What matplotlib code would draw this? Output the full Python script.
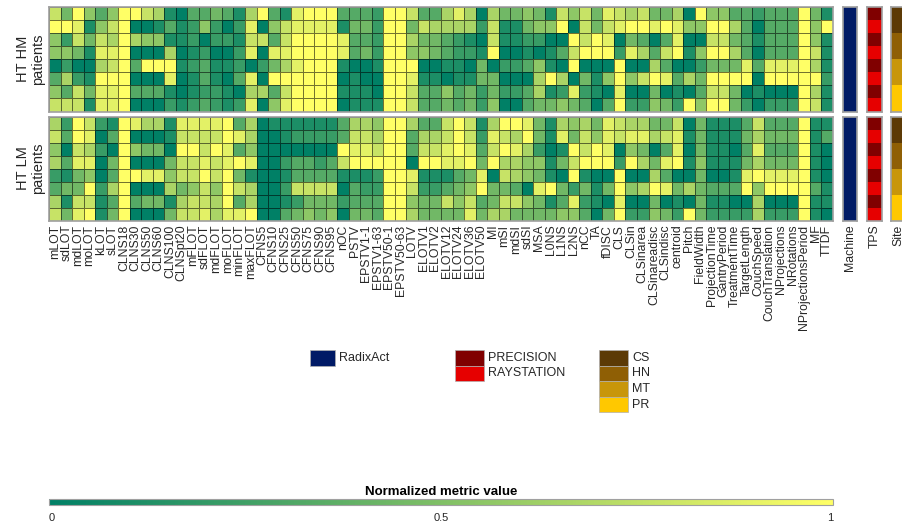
import numpy as np
import matplotlib
matplotlib.use('Agg')
import matplotlib.pyplot as plt
from matplotlib.colors import ListedColormap, Normalize
from matplotlib.cm import ScalarMappable
from matplotlib.patches import Rectangle

plt.rcParams['font.family'] = ['Liberation Sans', 'DejaVu Sans']

metrics = ['mLOT', 'sdLOT', 'mdLOT', 'moLOT', 'kLOT', 'sLOT', 'CLNS18', 'CLNS30', 'CLNS50',
           'CLNS60', 'CLNS100', 'CLNSpt20', 'mFLOT', 'sdFLOT', 'mdFLOT', 'moFLOT', 'minFLOT',
           'maxFLOT', 'CFNS5', 'CFNS10', 'CFNS25', 'CFNS50', 'CFNS75', 'CFNS90', 'CFNS95', 'nOC',
           'PSTV', 'EPSTV1-1', 'EPSTV1-63', 'EPSTV50-1', 'EPSTV50-63', 'LOTV', 'ELOTV1', 'ELOTV2',
           'ELOTV12', 'ELOTV24', 'ELOTV36', 'ELOTV50', 'MI', 'mSI', 'mdSI', 'sdSI', 'MSA', 'L0NS',
           'L1NS', 'L2NS', 'nCC', 'TA', 'fDISC', 'CLS', 'CLSin', 'CLSinarea', 'CLSinareadisc',
           'CLSindisc', 'centroid', 'Pitch', 'FieldWidth', 'ProjectionTime', 'GantryPeriod',
           'TreatmentTime', 'TargetLength', 'CouchSpeed', 'CouchTranslation', 'NProjections',
           'NRotations', 'NProjectionsPeriod', 'MF', 'TTDF']

# normalized values, in ninths (0 = dark teal, 9 = yellow)
hm_rows = [
    [7,4,9,5,3,5,9,9,7,6,1,0,3,3,4,3,1,6,9,3,1,8, 9,9,9,3,3,3,2,9,9,7,3,3,6,8,6,0,6,4,4,5,4,1,7,5,7, 4,8,7,6,7,4,4,6,0,9,5,5,3,3,2,3,3,3,9,4,1],
    [9,9,8,1,5,7,9,0,0,1,3,1,2,5,2,0,2,8,0,5,7,8, 8,8,8,1,4,4,2,9,9,4,7,6,6,6,6,2,7,1,1,4,5,5,9,0,7, 4,7,8,9,9,8,9,8,5,5,9,9,6,3,0,3,3,3,9,5,9],
    [5,2,7,4,7,6,9,6,5,5,1,1,2,0,2,2,1,7,7,3,7,9, 9,9,9,8,3,3,2,9,9,6,4,4,3,2,1,0,7,1,1,2,2,0,0,9,7, 9,8,0,4,3,0,3,8,0,0,7,7,4,3,1,3,3,3,9,5,1],
    [5,5,4,1,8,8,9,0,0,0,6,0,1,2,0,0,2,8,0,8,8,9, 9,9,9,8,3,4,2,9,9,5,5,4,3,2,2,1,9,0,0,1,0,1,3,7,9, 9,9,2,8,6,3,7,9,1,5,9,9,6,3,0,3,3,3,9,7,1],
    [0,2,0,0,6,7,9,3,9,9,9,1,2,3,1,1,2,0,2,4,6,8, 9,9,9,1,0,0,1,9,9,9,0,0,1,1,0,4,0,2,2,3,5,1,0,9,0, 0,0,9,0,0,6,3,0,0,2,4,4,4,8,3,8,8,8,9,6,1],
    [3,6,2,1,9,9,9,0,0,0,8,0,1,3,1,0,3,8,0,9,9,9, 9,9,9,0,1,0,0,9,9,8,1,1,0,1,1,4,4,0,0,0,6,9,6,0,4, 1,5,9,5,7,9,8,3,6,4,9,9,9,9,0,9,9,9,9,9,2],
    [5,3,7,4,8,8,9,3,3,3,1,0,1,2,2,1,0,6,6,3,7,9, 9,9,9,1,1,1,0,9,9,7,3,3,5,3,4,2,4,2,2,3,6,1,2,8,2, 1,0,8,0,0,4,0,1,0,3,7,7,4,0,1,0,0,0,9,6,1],
    [7,7,7,1,8,8,9,0,0,0,2,1,2,3,2,1,2,8,0,5,8,9, 9,9,9,0,1,1,1,9,9,7,3,3,4,3,4,2,5,0,0,3,4,4,5,4,3, 0,3,9,2,2,5,4,2,9,5,9,9,4,2,0,2,2,2,9,7,1],
]

lm_rows = [
    [6,2,9,7,2,1,9,8,6,6,1,8,8,8,8,9,3,6,0,1,1,1, 1,1,1,3,6,6,5,9,9,6,3,3,7,9,7,1,6,9,9,8,4,1,6,5,6, 4,8,7,6,6,4,4,7,0,4,1,1,1,3,7,3,3,3,9,1,1],
    [7,3,9,8,0,3,9,0,0,0,1,7,7,7,7,9,8,6,0,0,1,2, 2,2,2,3,7,7,6,9,9,3,6,6,7,9,7,2,8,7,6,9,4,1,8,4,7, 5,8,7,8,8,6,7,8,1,4,1,1,1,4,6,4,4,4,9,1,3],
    [5,0,7,6,2,0,9,5,4,4,0,9,9,7,9,8,3,5,0,0,0,0, 0,0,0,9,8,8,7,9,9,3,7,7,8,9,8,3,7,9,8,6,2,0,1,9,7, 9,8,0,5,4,0,3,8,0,4,1,1,0,3,8,3,3,3,9,1,0],
    [6,3,8,8,0,4,9,0,0,0,4,7,7,8,7,8,9,8,0,0,2,3, 3,2,3,7,9,9,9,9,9,0,9,9,8,8,9,4,9,6,6,5,5,1,4,7,9, 9,9,2,9,6,4,8,9,1,5,1,1,1,4,6,4,4,4,9,1,0],
    [2,1,4,5,0,3,9,9,8,8,5,7,7,9,7,9,4,1,0,0,1,3, 3,3,3,1,1,1,2,9,9,8,1,1,1,3,4,8,0,7,6,5,4,1,0,9,1, 0,0,9,0,0,6,3,0,0,4,0,0,1,8,9,8,8,8,9,1,0],
    [3,4,4,9,2,6,9,0,0,0,6,4,5,7,5,9,7,6,0,0,2,7, 7,7,7,0,3,2,2,9,9,7,2,2,3,4,5,9,4,4,3,0,8,9,4,2,4, 1,4,9,5,6,9,8,4,6,4,3,3,3,9,5,9,9,9,9,3,1],
    [6,1,7,7,1,3,9,3,4,4,1,6,7,7,6,9,3,6,0,0,1,2, 4,4,4,2,3,3,3,9,9,5,4,4,7,5,7,3,4,7,7,5,4,1,3,8,2, 1,0,8,0,0,4,0,1,0,4,1,1,0,0,6,0,0,0,9,1,1],
    [7,4,8,9,1,4,9,0,0,0,4,7,7,8,6,8,8,9,0,0,3,4, 5,4,5,0,4,4,3,9,9,6,4,4,4,4,8,4,6,6,4,4,4,4,5,5,3, 0,4,9,2,2,5,4,2,9,4,2,2,2,2,6,2,2,2,9,1,0],
]

# patient annotations (same for both groups)
machine_names = ['RadixAct']
machine_colors = ['#001a66']
tps_names = ['PRECISION', 'RAYSTATION']
tps_colors = ['#800000', '#e60000']
site_names = ['CS', 'HN', 'MT', 'PR']
site_colors = ['#5c3a06', '#8f5f05', '#c8960a', '#ffc800']
patient_machine = ['RadixAct'] * 8
patient_tps = ['PRECISION', 'RAYSTATION'] * 4
patient_site = ['CS', 'CS', 'HN', 'HN', 'MT', 'MT', 'PR', 'PR']

W, H = 903, 524
fig = plt.figure(figsize=(W / 100, H / 100), dpi=100)
txt = '#262626'
border = '#a0a0a0'


def px_axes(x0, y0, x1, y1):
    return fig.add_axes([x0 / W, 1 - y1 / H, (x1 - x0) / W, (y1 - y0) / H])


def style(ax):
    for s in ax.spines.values():
        s.set_color(border)
        s.set_linewidth(1.2)
    ax.tick_params(length=0, pad=3, colors=txt)


def heat(ax, rows, label, show_x):
    data = np.array(rows) / 9.0
    ax.pcolormesh(data, cmap='summer', vmin=0, vmax=1,
                  edgecolors=(0, 0, 0, 0.55), linewidth=0.5)
    ax.set_xlim(0, data.shape[1])
    ax.set_ylim(data.shape[0], 0)
    ax.set_yticks([])
    ax.set_ylabel(label, fontsize=10.5, color=txt, labelpad=3, linespacing=1.1)
    if show_x:
        ax.set_xticks(np.arange(len(metrics)) + 0.5)
        ax.set_xticklabels(metrics, rotation=90, fontsize=8.8)
    else:
        ax.set_xticks([])
    style(ax)


def side(ax, values, names, colors, label, show_x):
    idx = np.array([names.index(v) for v in values]).reshape(-1, 1)
    ax.pcolormesh(idx, cmap=ListedColormap(colors), vmin=-0.5, vmax=len(colors) - 0.5)
    ax.set_ylim(len(values), 0)
    ax.set_yticks([])
    if show_x:
        ax.set_xticks([0.5])
        ax.set_xticklabels([label], rotation=90, fontsize=8.8)
    else:
        ax.set_xticks([])
    style(ax)


panels = [(hm_rows, 'HT HM\npatients', 7, 111.5, False),
          (lm_rows, 'HT LM\npatients', 116.5, 220.5, True)]
for rows, label, y0, y1, last in panels:
    heat(px_axes(49, y0, 833, y1), rows, label, last)
    side(px_axes(843, y0, 857, y1), patient_machine, machine_names, machine_colors, 'Machine', last)
    side(px_axes(867, y0, 882, y1), patient_tps, tps_names, tps_colors, 'TPS', last)
    side(px_axes(891, y0, 906, y1), patient_site, site_names, site_colors, 'Site', last)

# legends for the annotation bars
lay = fig.add_axes([0, 0, 1, 1])
lay.set_xlim(0, W)
lay.set_ylim(H, 0)
lay.axis('off')
groups = [(machine_names, machine_colors, 310, 25),
          (tps_names, tps_colors, 455, 29),
          (site_names, site_colors, 599, 29)]
for names, colors, x, w in groups:
    for i, (n, c) in enumerate(zip(names, colors)):
        y = 350 + 15.6 * i
        lay.add_patch(Rectangle((x, y), w, 15.6, fc=c, ec='#b0b0b0', lw=0.5))
        lay.text(x + w + 4, y + 7.8, n, va='center', ha='left', fontsize=9, color=txt)

# colorbar
cax = px_axes(49, 499, 833, 505)
cb = fig.colorbar(ScalarMappable(norm=Normalize(0, 1), cmap='summer'), cax=cax,
                  orientation='horizontal', ticks=[0.004, 0.5, 0.996])
cb.ax.set_xticklabels(['0', '0.5', '1'])
cb.outline.set_edgecolor(border)
cb.outline.set_linewidth(0.8)
cax.tick_params(length=0, pad=6, labelsize=8, colors=txt)
cax.set_title('Normalized metric value', fontsize=9.5, fontweight='bold', color='black', pad=3)

fig.savefig('out.png', dpi=100)
